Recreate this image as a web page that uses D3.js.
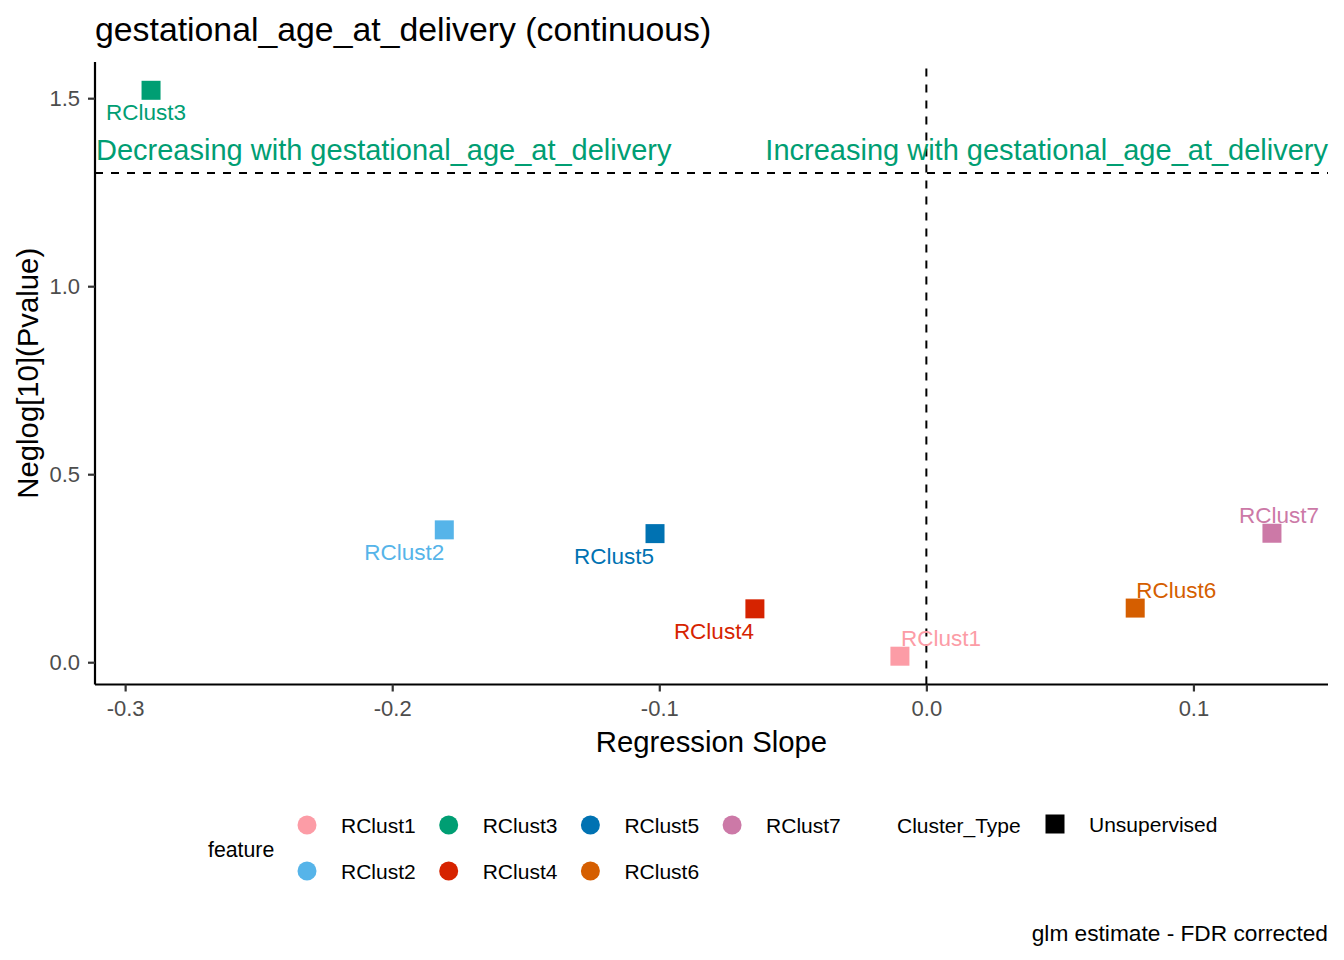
<!DOCTYPE html>
<html>
<head>
<meta charset="utf-8">
<script src="https://cdn.jsdelivr.net/npm/d3@7"></script>
<style>
  html, body { margin: 0; padding: 0; background: #fff; }
  svg { display: block; font-family: "Liberation Sans", Arial, sans-serif; }
</style>
</head>
<body>
<div id="chart"></div>
<script>
// data
const features = ["RClust1", "RClust2", "RClust3", "RClust4", "RClust5", "RClust6", "RClust7"];
const slopes = [-0.0099, -0.1805, -0.2903, -0.0642, -0.1016, 0.0782, 0.1294];
const negLogP = [0.016, 0.352, 1.521, 0.142, 0.342, 0.144, 0.343];
const featureColors = ["#FC9CA6", "#56B4E9", "#009E73", "#D62300", "#0072B2", "#D55E00", "#CC79A7"];
const xTicks = [-0.3, -0.2, -0.1, 0.0, 0.1];
const yTicks = [0.0, 0.5, 1.0, 1.5];
const clusterTypes = ["Unsupervised"];

// label placement (repel-like), in px from the point
const labelNudge = [[41, -18], [-40, 22], [-5, 22], [-41, 22], [-41, 22], [41, -18], [7, -18]];

const W = 1344, H = 960;
const margin = { left: 95, right: 16, top: 62, bottom: 276 };

const data = features.map((f, i) => ({
  feature: f, slope: slopes[i], p: negLogP[i], color: featureColors[i], nudge: labelNudge[i]
}));

// ggplot-style 5% expansion
function expand(ext) {
  const pad = (ext[1] - ext[0]) * 0.05;
  return [ext[0] - pad, ext[1] + pad];
}

const x = d3.scaleLinear()
  .domain(expand(d3.extent(slopes)))
  .range([margin.left, W - margin.right]);
const y = d3.scaleLinear()
  .domain(expand(d3.extent(negLogP)))
  .range([H - margin.bottom + 0.5, margin.top]);

const svg = d3.select("#chart").append("svg")
  .attr("width", W).attr("height", H)
  .attr("viewBox", `0 0 ${W} ${H}`);

const x0 = margin.left, x1 = W - margin.right;
const y0 = H - margin.bottom + 0.5, y1 = margin.top;

// title
svg.append("text")
  .attr("x", x0).attr("y", 41)
  .style("font-size", "33.8px")
  .style("fill", "#000")
  .text("gestational_age_at_delivery (continuous)");

// reference lines
const sig = -Math.log10(0.05);
svg.append("line")
  .attr("x1", x0).attr("x2", x1)
  .attr("y1", y(sig)).attr("y2", y(sig))
  .attr("stroke", "#000").attr("stroke-width", 2)
  .attr("stroke-dasharray", "8,8");
svg.append("line")
  .attr("x1", x(0)).attr("x2", x(0))
  .attr("y1", y0).attr("y2", y1)
  .attr("stroke", "#000").attr("stroke-width", 2)
  .attr("stroke-dasharray", "8,8");

// annotations
svg.append("text")
  .attr("x", x0 + 1).attr("y", 160)
  .style("font-size", "29px")
  .style("fill", "#009E73")
  .text("Decreasing with gestational_age_at_delivery");
svg.append("text")
  .attr("x", x1).attr("y", 160)
  .attr("text-anchor", "end")
  .style("font-size", "29px")
  .style("fill", "#009E73")
  .text("Increasing with gestational_age_at_delivery");

// points
const sq = 19;
svg.append("g")
  .selectAll("rect")
  .data(data)
  .join("rect")
  .attr("x", (d) => x(d.slope) - sq / 2)
  .attr("y", (d) => y(d.p) - sq / 2)
  .attr("width", sq).attr("height", sq)
  .attr("fill", (d) => d.color);

// labels
svg.append("g")
  .selectAll("text")
  .data(data)
  .join("text")
  .attr("x", (d) => x(d.slope) + d.nudge[0])
  .attr("y", (d) => y(d.p) + d.nudge[1])
  .attr("text-anchor", "middle")
  .attr("dy", "0.36em")
  .style("font-size", "22.5px")
  .style("fill", (d) => d.color)
  .text((d) => d.feature);

// axes
const xAxis = svg.append("g")
  .attr("transform", `translate(0,${y0})`)
  .call(d3.axisBottom(x).tickValues(xTicks).tickSize(7).tickPadding(9)
    .tickFormat((t) => t.toFixed(1)));
const yAxis = svg.append("g")
  .attr("transform", `translate(${x0},0)`)
  .call(d3.axisLeft(y).tickValues(yTicks).tickSize(7).tickPadding(8)
    .tickFormat((t) => t.toFixed(1)));

[xAxis, yAxis].forEach((a) => {
  a.select(".domain").attr("stroke", "#000").attr("stroke-width", 2.2);
  a.selectAll(".tick line").attr("stroke", "#333").attr("stroke-width", 2.2);
  a.selectAll(".tick text")
    .attr("fill", "#4D4D4D")
    .style("font-size", "22px")
    .style("font-family", "'Liberation Sans', Arial, sans-serif");
});
xAxis.select(".domain").attr("d", `M${x0},0H${x1}`);
yAxis.select(".domain").attr("d", `M0,${y0}V${y1}`);

// axis titles
svg.append("text")
  .attr("x", (x0 + x1) / 2).attr("y", 752)
  .attr("text-anchor", "middle")
  .style("font-size", "29.3px")
  .text("Regression Slope");
svg.append("text")
  .attr("transform", `translate(38,${(y0 + y1) / 2}) rotate(-90)`)
  .attr("text-anchor", "middle")
  .style("font-size", "29.3px")
  .text("Neglog[10](Pvalue)");

// legend: feature (2 rows, filled by column)
const legend = svg.append("g");
const rowY = [825, 871];
const colX = 307, colStep = 141.7;
legend.append("text")
  .attr("x", 208).attr("y", 849)
  .attr("dy", "0.36em")
  .style("font-size", "21.3px")
  .text("feature");
const items = legend.selectAll("g.item")
  .data(data)
  .join("g")
  .attr("class", "item")
  .attr("transform", (d, i) =>
    `translate(${colX + Math.floor(i / 2) * colStep},${rowY[i % 2]})`);
items.append("circle").attr("r", 9.5).attr("fill", (d) => d.color);
items.append("text")
  .attr("x", 34).attr("dy", "0.36em")
  .style("font-size", "21px")
  .text((d) => d.feature);

// legend: Cluster_Type
legend.append("text")
  .attr("x", 897).attr("y", rowY[0])
  .attr("dy", "0.36em")
  .style("font-size", "21px")
  .text("Cluster_Type");
const ct = legend.selectAll("g.ct")
  .data(clusterTypes)
  .join("g")
  .attr("class", "ct")
  .attr("transform", (d, i) => `translate(1055,${rowY[0] - 1 + i * 46})`);
ct.append("rect")
  .attr("x", -9.5).attr("y", -9.5)
  .attr("width", 19).attr("height", 19)
  .attr("fill", "#000");
ct.append("text")
  .attr("x", 34).attr("dy", "0.36em")
  .style("font-size", "21px")
  .text((d) => d);

// caption
svg.append("text")
  .attr("x", x1).attr("y", 933)
  .attr("dy", "0.36em")
  .attr("text-anchor", "end")
  .style("font-size", "22.7px")
  .text("glm estimate - FDR corrected");
</script>
</body>
</html>
